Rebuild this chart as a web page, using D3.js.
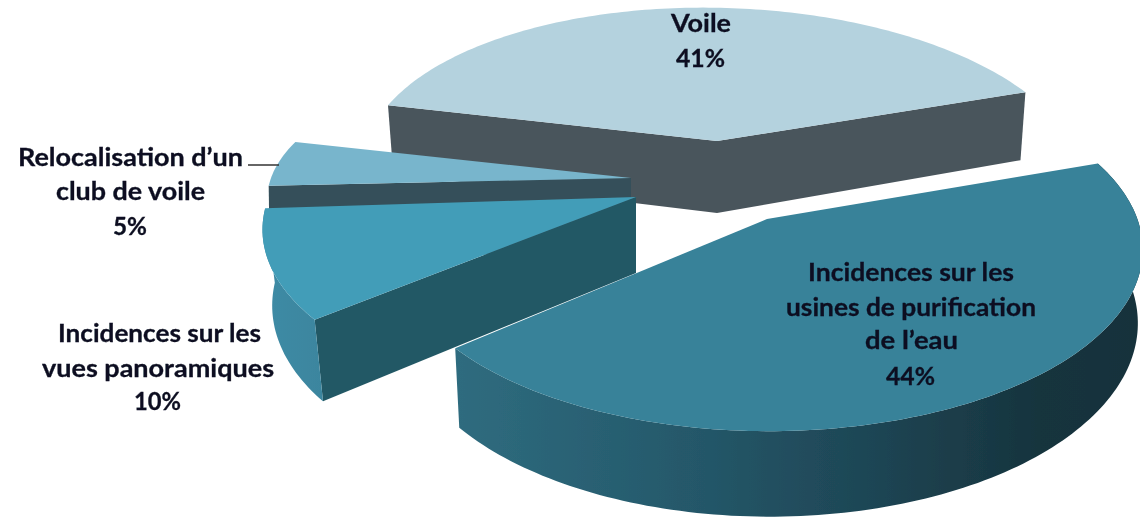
<!DOCTYPE html>
<html><head><meta charset="utf-8">
<script src="https://cdn.jsdelivr.net/npm/d3@7/dist/d3.min.js"></script>
<style>html,body{margin:0;padding:0;background:#fff;overflow:hidden}svg{display:block}</style>
</head><body><svg id="c" width="1140" height="519"></svg>
<script>
const categories = ["Voile","Incidences sur les usines de purification de l’eau","Incidences sur les vues panoramiques","Relocalisation d’un club de voile"];
const values = [41,44,10,5];
const labelLines = [["Voile"],["Incidences sur les","usines de purification","de l’eau"],["Incidences sur les","vues panoramiques"],["Relocalisation d’un","club de voile"]];

// layout (view) parameters for each exploded wedge
const views = [
 {ax:717,ay:141,sx:351,sy:160,k:.2,shear:27,tilt:-4,depth:72,apexDepth:72,taper:.984},
 {ax:767,ay:219,sx:368,sy:176,k:.17,shear:12,tilt:-6,depth:71,apexDepth:71,taper:.987},
 {ax:636,ay:197,sx:368,sy:174,k:.15,shear:-8,tilt:-2,depth:74,apexDepth:76,taper:.974},
 {ax:631,ay:178,sx:360,sy:148,k:.25,shear:37,tilt:0,depth:73,apexDepth:73,taper:.997}];
const topCol = ["#b4d2de","#378299","#439db8","#78b5cc"];
const cutCol = ["#4a555c",null,"#245865","#34505a"];
const labelPos = [
 {x:[701,700.5],y:[32,67],w:[60,49]},
 {x:[911,911,911.5,910.5],y:[281,316,349,385],w:[206,250,93,49]},
 {x:[159.5,158,157.5],y:[342,377,410],w:[203,232,47]},
 {x:[130.5,130.5,130],y:[166,200,235],w:[225,149,34]}];

const svg = d3.select("#c");
const pie = d3.pie().sort(null).value(d=>d).startAngle(285*Math.PI/180).endAngle((285+360)*Math.PI/180);
const arcs = pie(values);
const line = d3.line();
const defs = svg.append("defs");
const g1 = defs.append("linearGradient").attr("id","sideU").attr("gradientUnits","userSpaceOnUse").attr("x1",454).attr("x2",1140).attr("y1",0).attr("y2",0);
[[0,"#2f6c7f"],[.33,"#25596b"],[.6,"#1e4655"],[.85,"#17343e"],[1,"#17323b"]].forEach(s=>g1.append("stop").attr("offset",s[0]).attr("stop-color",s[1]));
const g2 = defs.append("linearGradient").attr("id","sideP").attr("gradientUnits","userSpaceOnUse").attr("x1",264).attr("x2",325).attr("y1",0).attr("y2",0);
[[0,"#3f8ba5"],[1,"#3b859e"]].forEach(s=>g2.append("stop").attr("offset",s[0]).attr("stop-color",s[1]));
const blur = defs.append("filter").attr("id","soft");
blur.append("feGaussianBlur").attr("stdDeviation",.45);
const blur2 = defs.append("filter").attr("id","softT");
blur2.append("feGaussianBlur").attr("stdDeviation",.35);

function proj(v,a,h){
  const X=Math.sin(a),Y=-Math.cos(a),den=1-v.k*Y;
  const t=h?v.taper:1;
  return [v.ax+t*(v.sx*X+v.shear*Y)/den, v.ay+(v.sy*Y+v.tilt*X+(h||0))/den];
}
function apex(v,low){return [v.ax,v.ay+(low?v.apexDepth:0)];}
function arcPts(v,a0,a1,h){
  const n=Math.max(8,Math.ceil(Math.abs(a1-a0)/.02));
  return d3.range(n+1).map(i=>proj(v,a0+(a1-a0)*i/n,h));
}
const chart = svg.append("g").attr("filter","url(#soft)");
// draw order back to front
[0,3,2,1].forEach(i=>{
  const a=arcs[i],v=views[i];
  const g=chart.append("g");
  const s0=a.startAngle,s1=a.endAngle;
  if(i===0){
    [s0,s1].forEach(e=>g.append("path").attr("fill",cutCol[0]).attr("d",line([apex(v),proj(v,e),proj(v,e,v.depth),apex(v,true)])+"Z"));
  }
  if(i===3){
    g.append("path").attr("fill",cutCol[3]).attr("d",line([apex(v),proj(v,s0),proj(v,s0,v.depth),apex(v,true)])+"Z");
  }
  if(i===2){
    g.append("path").attr("fill",cutCol[2]).attr("d",line([apex(v),proj(v,s0),proj(v,s0,v.depth),apex(v,true)])+"Z");
    g.append("path").attr("fill","url(#sideP)").attr("d",line(arcPts(v,s0,s1).concat(arcPts(v,s1,s0,v.depth)))+"Z");
  }
  if(i===1){
    g.append("path").attr("fill","url(#sideU)").attr("d",line(arcPts(v,s0,s1).concat(arcPts(v,s1,s0,v.depth)))+"Z");
  }
  g.append("path").attr("fill",topCol[i]).attr("d",line([apex(v)].concat(arcPts(v,s0,s1)))+"Z");
});
// leader line for the smallest wedge
svg.append("line").attr("x1",248).attr("x2",279).attr("y1",165).attr("y2",165).attr("stroke","#333").attr("stroke-width",1.5);
// labels
const labels = svg.append("g").attr("filter","url(#softT)").attr("font-family","Lato, 'Open Sans', sans-serif").attr("font-weight",700).attr("font-size",24).attr("fill","#0b1020").attr("stroke","#0b1020").attr("stroke-width",.3).attr("text-anchor","middle");
values.forEach((val,i)=>{
  const lines=labelLines[i].concat([val+"%"]);
  lines.forEach((t,j)=>labels.append("text").attr("x",labelPos[i].x[j]).attr("y",labelPos[i].y[j]).attr("textLength",labelPos[i].w[j]).attr("lengthAdjust","spacingAndGlyphs").text(t));
});
</script></body></html>
